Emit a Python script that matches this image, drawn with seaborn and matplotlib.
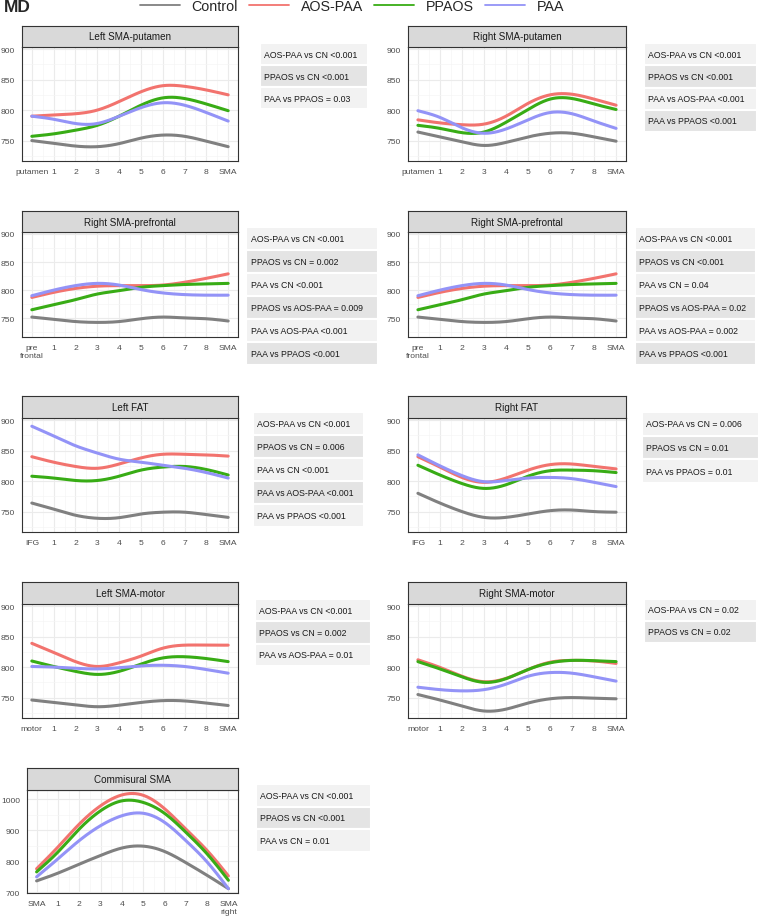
import numpy as np
import pandas as pd
import matplotlib
matplotlib.use('Agg')
import matplotlib.pyplot as plt
import seaborn as sns
from matplotlib.lines import Line2D

# groups and colours
groups = ['Control', 'AOS-PAA', 'PPAOS', 'PAA']
colors = ['#808080', '#F2736E', '#38AC15', '#9393F7']
steps = list(range(10))

# MD values along each tract (Control, AOS-PAA, PPAOS, PAA)
left_sma_putamen = [
    [750, 745.5, 741, 740, 745, 754, 759, 757, 749, 740],
    [790, 792, 794, 800, 814, 830, 840, 839, 833, 825],
    [757, 761, 767, 775, 790, 808, 820, 819, 810, 799],
    [790, 785, 778, 778, 790, 804, 812, 808, 796, 782],
]
right_sma_putamen = [
    [764, 756, 748, 742, 747, 756, 762, 762, 756, 749],
    [784, 779, 776, 777, 790, 811, 825, 826, 818, 808],
    [775, 770, 763, 764, 780, 801, 818, 819, 810, 801],
    [799, 788, 771, 762, 769, 784, 796, 794, 782, 770],
]
right_sma_prefrontal = [
    [752, 748, 744, 742.5, 744, 749, 752, 750.5, 749, 745],
    [787, 796, 803, 807, 808, 808, 809, 814, 821, 829],
    [765, 774, 783, 793, 799, 805, 808, 810, 811, 812],
    [790, 800, 808, 812, 809, 801, 795, 792, 791, 791],
]
left_fat = [
    [764, 754, 744, 739, 740, 746, 749, 749, 745, 740.5],
    [840, 831, 824, 821, 828, 838, 844, 844, 843, 841],
    [808, 805, 801, 801, 808, 818, 823, 824, 819, 810],
    [890, 874, 858, 846, 836, 831, 826, 821, 814, 805],
]
right_fat = [
    [780, 764, 750, 740.5, 740.5, 746, 751.5, 752.5, 750, 749],
    [840, 823, 806, 798, 805, 818, 827, 828, 824, 820],
    [826, 810, 796, 788, 794, 808, 817, 818, 817, 814],
    [843, 825, 809, 799, 801, 805, 806, 804, 798, 791],
]
left_sma_motor = [
    [746, 742, 738, 735, 737.5, 742, 745, 744.5, 741, 737],
    [839, 824, 809, 801, 807, 818, 831, 836, 836, 836],
    [810, 801, 793, 788, 793, 805, 815, 817, 814, 809],
    [801, 800, 798, 797, 799, 802, 803, 801, 796, 790],
]
right_sma_motor = [
    [755, 746, 736, 728, 731, 741, 748, 750, 749, 748],
    [812, 799.5, 785, 776, 781.5, 796, 808, 811, 810, 806],
    [809, 797, 784, 775, 781, 796, 807, 811, 810.5, 809],
    [767, 763, 761, 763, 772, 785, 791, 790, 784, 777],
]
commisural_sma = [
    [737, 762, 791, 819, 843, 849, 832, 796, 755, 712],
    [776, 846, 920, 979, 1014, 1013, 970, 904, 835, 753],
    [766, 830, 904, 963, 995, 990, 955, 894, 824, 739],
    [750, 808, 867, 915, 947, 955, 926, 867, 798, 712],
]

mid = ['1', '2', '3', '4', '5', '6', '7', '8']
labels_putamen = ['putamen'] + mid + ['SMA']
labels_prefrontal = ['pre\nfrontal'] + mid + ['SMA']
labels_ifg = ['IFG'] + mid + ['SMA']
labels_motor = ['motor'] + mid + ['SMA']
labels_comm = ['SMA'] + mid + ['SMA\nright']

tab_1 = ['AOS-PAA vs CN <0.001', 'PPAOS vs CN <0.001', 'PAA vs PPAOS = 0.03']
tab_2 = ['AOS-PAA vs CN <0.001', 'PPAOS vs CN <0.001', 'PAA vs AOS-PAA <0.001', 'PAA vs PPAOS <0.001']
tab_3 = ['AOS-PAA vs CN <0.001', 'PPAOS vs CN = 0.002', 'PAA vs CN <0.001',
         'PPAOS vs AOS-PAA = 0.009', 'PAA vs AOS-PAA <0.001', 'PAA vs PPAOS <0.001']
tab_4 = ['AOS-PAA vs CN <0.001', 'PPAOS vs CN <0.001', 'PAA vs CN = 0.04',
         'PPAOS vs AOS-PAA = 0.02', 'PAA vs AOS-PAA = 0.002', 'PAA vs PPAOS <0.001']
tab_5 = ['AOS-PAA vs CN <0.001', 'PPAOS vs CN = 0.006', 'PAA vs CN <0.001',
         'PAA vs AOS-PAA <0.001', 'PAA vs PPAOS <0.001']
tab_6 = ['AOS-PAA vs CN = 0.006', 'PPAOS vs CN = 0.01', 'PAA vs PPAOS = 0.01']
tab_7 = ['AOS-PAA vs CN <0.001', 'PPAOS vs CN = 0.002', 'PAA vs AOS-PAA = 0.01']
tab_8 = ['AOS-PAA vs CN = 0.02', 'PPAOS vs CN = 0.02']
tab_9 = ['AOS-PAA vs CN <0.001', 'PPAOS vs CN <0.001', 'PAA vs CN = 0.01']


def spline(y, n=30):
    # natural cubic spline through the points at x = 0..k-1
    y = np.asarray(y, float)
    k = len(y)
    A = np.zeros((k - 2, k - 2))
    for i in range(k - 2):
        A[i, i] = 4
        if i > 0:
            A[i, i - 1] = 1
        if i < k - 3:
            A[i, i + 1] = 1
    M = np.zeros(k)
    M[1:-1] = np.linalg.solve(A, 6 * (y[2:] - 2 * y[1:-1] + y[:-2]))
    xs, ys = [], []
    for i in range(k - 1):
        t = np.linspace(0, 1, n, endpoint=(i == k - 2))
        s = (1 - t) * y[i] + t * y[i + 1] + ((1 - t) ** 3 - (1 - t)) * M[i] / 6 + (t ** 3 - t) * M[i + 1] / 6
        xs.append(i + t)
        ys.append(s)
    return np.concatenate(xs), np.concatenate(ys)


def make_df(series):
    rows = []
    for g, vals in zip(groups, series):
        xs, ys = spline(vals)
        rows.append(pd.DataFrame({'step': xs, 'md': ys, 'group': g}))
    return pd.concat(rows, ignore_index=True)


sns.set_style('white')
plt.rcParams['font.family'] = ['Liberation Sans', 'DejaVu Sans']

W, H = 765, 920
fig = plt.figure(figsize=(W / 100, H / 100), dpi=100)


def px_axes(l, t, r, b):
    return fig.add_axes([l / W, 1 - b / H, (r - l) / W, (b - t) / H])


# title, series, tick labels, table, panel box, strip top, table box, y-limits
panels = [
    ('Left SMA-putamen', left_sma_putamen, labels_putamen, tab_1, (22, 48, 238, 162), 27, (260, 44, 368, 110), (716.5, 903.5)),
    ('Right SMA-putamen', right_sma_putamen, labels_putamen, tab_2, (408, 48, 626, 162), 27, (644, 44, 757, 133), (716.5, 903.5)),
    ('Right SMA-prefrontal', right_sma_prefrontal, labels_prefrontal, tab_3, (22, 233, 238, 338), 212, (246, 228, 378, 366), (716.5, 903.5)),
    ('Right SMA-prefrontal', right_sma_prefrontal, labels_prefrontal, tab_4, (408, 233, 626, 338), 212, (635, 228, 756, 366), (716.5, 903.5)),
    ('Left FAT', left_fat, labels_ifg, tab_5, (22, 419, 238, 533), 397, (253, 413, 364, 528), (716.5, 903.5)),
    ('Right FAT', right_fat, labels_ifg, tab_6, (408, 419, 626, 533), 397, (642, 413, 759, 484), (716.5, 903.5)),
    ('Left SMA-motor', left_sma_motor, labels_motor, tab_7, (22, 605, 238, 719), 583, (255, 600, 371, 667), (716.5, 903.5)),
    ('Right SMA-motor', right_sma_motor, labels_motor, tab_8, (408, 605, 626, 719), 583, (644, 600, 757, 644), (716.5, 903.5)),
    ('Commisural SMA', commisural_sma, labels_comm, tab_9, (27, 791, 238, 894), 769, (256, 785, 371, 853), (698, 1030)),
]

pal = dict(zip(groups, colors))

for title, series, xlabels, tab, box, strip_top, tbox, ylim in panels:
    l, t, r, b = box
    ax = px_axes(l, t, r, b)
    df = make_df(series)
    sns.lineplot(data=df, x='step', y='md', hue='group', hue_order=groups, palette=pal,
                 linewidth=2.2, sort=False, estimator=None, legend=False, ax=ax)
    ax.set_xlim(-0.45, 9.45)
    ax.set_ylim(*ylim)
    ax.set_xticks(steps)
    ax.set_xticklabels(xlabels)
    ax.set_xticks(np.arange(0.5, 9, 1), minor=True)
    if ylim[1] > 950:
        ax.set_yticks([700, 800, 900, 1000])
        ax.set_yticks([750, 850, 950], minor=True)
    else:
        ax.set_yticks([750, 800, 850, 900])
        ax.set_yticks([725, 775, 825, 875], minor=True)
    ax.grid(which='major', color='#EBEBEB', linewidth=0.8)
    ax.grid(which='minor', color='#F5F5F5', linewidth=0.5)
    ax.set_axisbelow(True)
    ax.set_xlabel('')
    ax.set_ylabel('')
    for s in ax.spines.values():
        s.set_color('#333333')
        s.set_linewidth(0.8)
    ax.tick_params(which='major', length=2.75, width=0.8, color='#333333',
                   labelsize=6.1, labelcolor='#4D4D4D', pad=2.2)
    ax.tick_params(which='minor', length=0)

    # strip
    sx = px_axes(l, strip_top, r, t)
    sx.set_facecolor('#D9D9D9')
    sx.set_xticks([])
    sx.set_yticks([])
    for s in sx.spines.values():
        s.set_color('#333333')
        s.set_linewidth(0.8)
    sx.text(0.5, 0.5, title, ha='center', va='center', fontsize=7.1, color='#1A1A1A',
            transform=sx.transAxes)

    # p-value table
    tl, tt, tr, tb = tbox
    tx = px_axes(tl, tt, tr, tb)
    tx.axis('off')
    tbl = tx.table(cellText=[[s] for s in tab], cellLoc='left', bbox=[0, 0, 1, 1])
    tbl.auto_set_font_size(False)
    tbl.set_fontsize(6.3)
    for (i, j), cell in tbl.get_celld().items():
        cell.set_facecolor('#F2F2F2' if i % 2 == 0 else '#E4E4E4')
        cell.set_edgecolor('white')
        cell.set_linewidth(1.5)
        cell.PAD = 0.035
        cell.get_text().set_color('#1A1A1A')

fig.text(4 / W, 1 - 8 / H, 'MD', fontsize=12.5, fontweight='bold', va='center', ha='left')
handles = [Line2D([], [], color=c, linewidth=1.3) for c in colors]
fig.legend(handles, groups, loc='center', bbox_to_anchor=(0.46, 1 - 7 / H), ncol=4,
           frameon=False, fontsize=10.3, handlelength=2.8, handletextpad=0.8,
           columnspacing=0.8, borderpad=0, borderaxespad=0)

fig.savefig('out.png', dpi=100)
